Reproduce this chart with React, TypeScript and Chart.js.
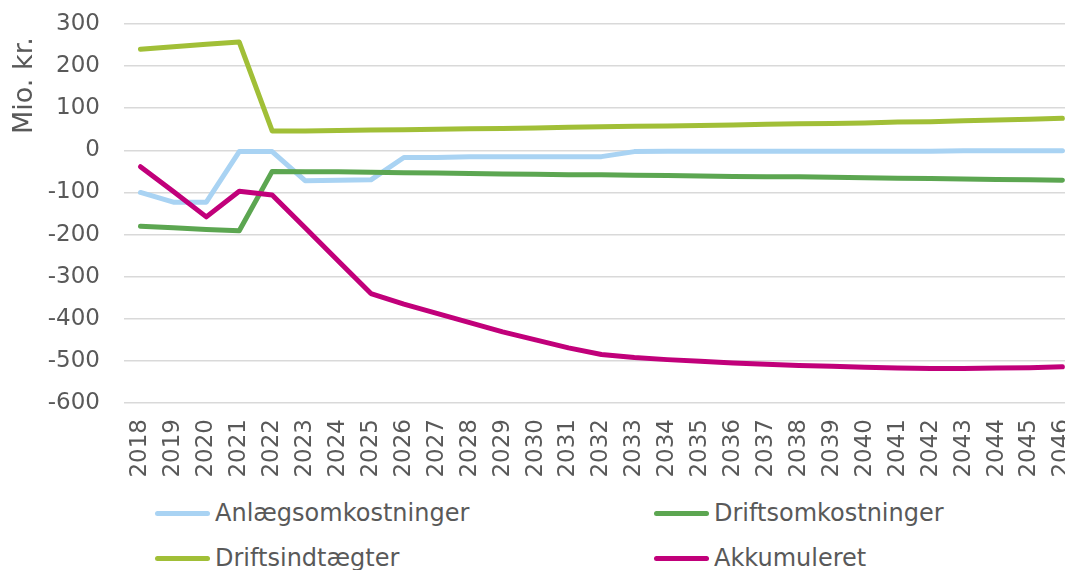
import { useEffect, useRef } from "react";
import { Chart, registerables } from "chart.js";

Chart.register(...registerables);

const years = [
  "2018", "2019", "2020", "2021", "2022", "2023", "2024", "2025", "2026", "2027",
  "2028", "2029", "2030", "2031", "2032", "2033", "2034", "2035", "2036", "2037",
  "2038", "2039", "2040", "2041", "2042", "2043", "2044", "2045", "2046",
];

const anlaegsomkostninger = [
  -100, -123, -123, -3, -3, -72, -71, -70, -17, -17,
  -15, -15, -15, -15, -15, -3, -2, -2, -2, -2,
  -2, -2, -2, -2, -2, -1, -1, -1, -1,
];

const driftsomkostninger = [
  -180, -184, -188, -191, -50, -51, -51, -52, -53, -54,
  -55, -56, -57, -58, -58, -59, -60, -61, -62, -63,
  -63, -64, -65, -66, -67, -68, -69, -70, -71,
];

const driftsindtaegter = [
  240, 246, 252, 257, 46, 46, 47, 48, 49, 50,
  51, 52, 53, 55, 56, 57, 58, 59, 60, 62,
  63, 64, 65, 67, 68, 70, 72, 74, 76,
];

const akkumuleret = [
  -39, -98, -158, -97, -106, -184, -262, -340, -365, -387,
  -409, -431, -450, -469, -485, -492, -497, -501, -505, -508,
  -511, -513, -515, -517, -518, -518, -517, -516, -514,
];

const seriesNames = ["Anlægsomkostninger", "Driftsomkostninger", "Driftsindtægter", "Akkumuleret"];
const seriesValues = [anlaegsomkostninger, driftsomkostninger, driftsindtaegter, akkumuleret];
const seriesColors = ["#A9D3F3", "#5CA651", "#A1BF37", "#C1007A"];

const yMin = -600;
const yMax = 300;
const yStep = 100;
const yTitle = "Mio. kr.";

const FONT = '"DejaVu Sans", Verdana, sans-serif';
const TEXT = "#595959";

export default function App() {
  const canvasRef = useRef<HTMLCanvasElement | null>(null);

  useEffect(() => {
    const canvas = canvasRef.current;
    if (!canvas) return;
    const chart = new Chart(canvas, {
      type: "line",
      data: {
        labels: years,
        datasets: seriesNames.map((name, i) => ({
          label: name,
          data: seriesValues[i],
          borderColor: seriesColors[i],
          backgroundColor: seriesColors[i],
          borderWidth: 5,
          pointRadius: 0,
          pointHoverRadius: 0,
          tension: 0,
          borderCapStyle: "round" as const,
          borderJoinStyle: "round" as const,
          fill: false,
          order: seriesNames.length - i,
        })),
      },
      options: {
        animation: false,
        responsive: true,
        maintainAspectRatio: false,
        layout: { padding: { left: 0, right: 0, top: 24, bottom: 0 } },
        plugins: {
          legend: { display: false },
          tooltip: { enabled: false },
        },
        scales: {
          x: {
            type: "category",
            offset: true,
            grid: { display: false, drawTicks: true, tickLength: 16, tickColor: "rgba(0,0,0,0)" },
            border: { display: false },
            ticks: {
              autoSkip: false,
              minRotation: 90,
              maxRotation: 90,
              padding: 0,
              color: TEXT,
              font: { family: FONT, size: 23 },
            },
            afterFit: (s: any) => {
              s.height = 77;
            },
          },
          y: {
            min: yMin,
            max: yMax,
            ticks: {
              stepSize: yStep,
              padding: 0,
              color: TEXT,
              font: { family: FONT, size: 23 },
            },
            grid: {
              color: "#D9D9D9",
              lineWidth: 1.5,
              drawTicks: true,
              tickLength: 24,
              tickColor: "rgba(0,0,0,0)",
            },
            border: { display: false },
            afterFit: (s: any) => {
              s.width = 124;
            },
          },
        },
      },
    });
    return () => chart.destroy();
  }, []);

  const legendPos = [
    { left: 155, cy: 513 },
    { left: 654, cy: 513 },
    { left: 155, cy: 558 },
    { left: 654, cy: 558 },
  ];

  return (
    <div
      style={{
        position: "fixed",
        left: 0,
        top: 0,
        width: 1065,
        height: 570,
        overflow: "hidden",
        background: "#fff",
        fontFamily: FONT,
      }}
    >
      <div style={{ position: "absolute", left: 0, top: 0, width: 1090, height: 480 }}>
        <canvas ref={canvasRef} />
      </div>
      <div
        style={{
          position: "absolute",
          left: 9,
          top: 134,
          fontSize: 27,
          lineHeight: "27px",
          color: TEXT,
          whiteSpace: "nowrap",
          transformOrigin: "left top",
          transform: "rotate(-90deg)",
        }}
      >
        {yTitle}
      </div>
      {seriesNames.map((name, i) => (
        <div
          key={name}
          style={{
            position: "absolute",
            left: legendPos[i].left,
            top: legendPos[i].cy - 15,
            height: 30,
            display: "flex",
            alignItems: "center",
            whiteSpace: "nowrap",
          }}
        >
          <span
            style={{
              display: "inline-block",
              width: 55,
              height: 5,
              borderRadius: 3,
              background: seriesColors[i],
            }}
          />
          <span style={{ marginLeft: 5, fontSize: 24, color: TEXT }}>{name}</span>
        </div>
      ))}
    </div>
  );
}
